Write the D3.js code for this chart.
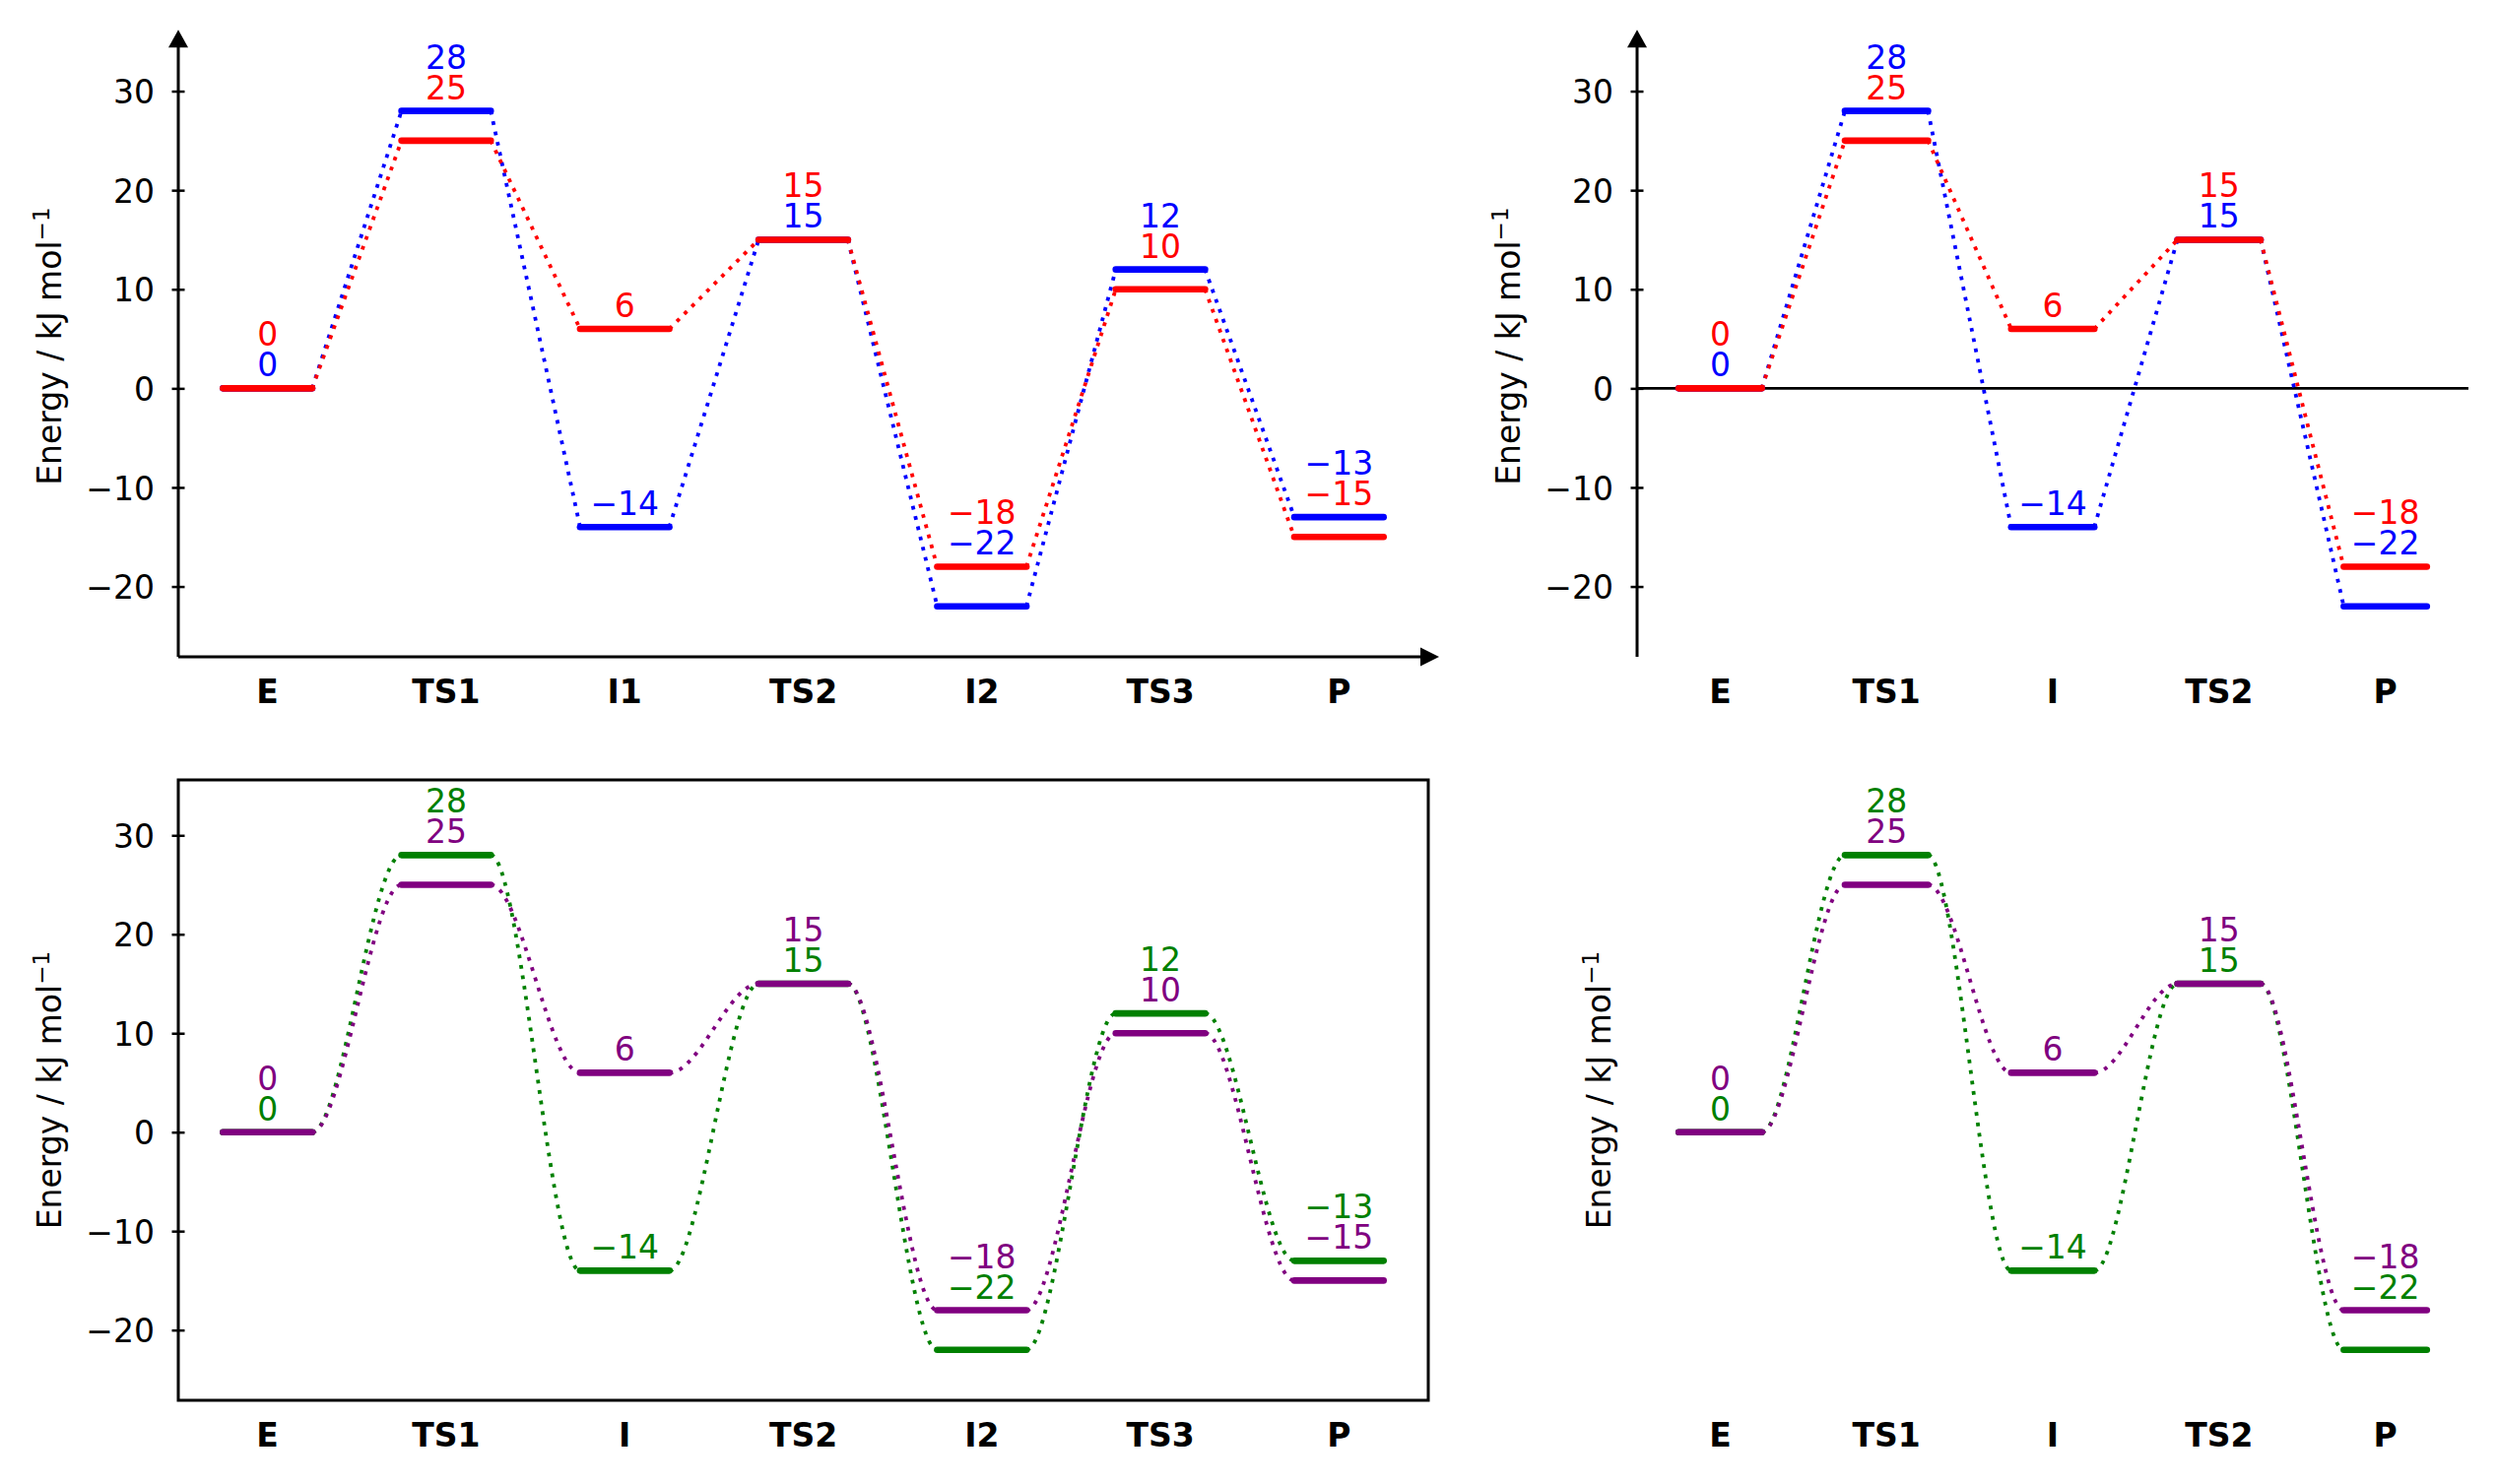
<!DOCTYPE html>
<html>
<head>
<meta charset="utf-8">
<script src="https://cdn.jsdelivr.net/npm/d3@7"></script>
<style>
  html, body { margin: 0; padding: 0; background: #fff; }
  svg { display: block; font-family: "DejaVu Sans", sans-serif; }
</style>
</head>
<body>
<div id="chart"></div>
<script>
"use strict";
(function() {
  // data
  var catsTopLeft = ["E", "TS1", "I1", "TS2", "I2", "TS3", "P"];
  var catsBottomLeft = ["E", "TS1", "I", "TS2", "I2", "TS3", "P"];
  var catsRight = ["E", "TS1", "I", "TS2", "P"];
  var energyA7 = [0, 28, -14, 15, -22, 12, -13];
  var energyB7 = [0, 25, 6, 15, -18, 10, -15];
  var energyA5 = [0, 28, -14, 15, -22];
  var energyB5 = [0, 25, 6, 15, -18];
  var yTicks = [-20, -10, 0, 10, 20, 30];
  var yDomain = [-27.1, 35.6];

  var W = 2535, H = 1507;
  var FS = 33;

  var panels = [
    {cats: catsTopLeft, a: energyA7, b: energyB7, colA: "#0000ff", colB: "#ff0000",
     left: 181, right: 1450, top: 36.2, bottom: 667, kind: "arrows", smooth: false, ticks: true, labelOff: 119},
    {cats: catsRight, a: energyA5, b: energyB5, colA: "#0000ff", colB: "#ff0000",
     left: 1662, right: 2506, top: 36.2, bottom: 667, kind: "zero", smooth: false, ticks: true, labelOff: 119},
    {cats: catsBottomLeft, a: energyA7, b: energyB7, colA: "#008000", colB: "#800080",
     left: 181, right: 1450, top: 792, bottom: 1422, kind: "frame", smooth: true, ticks: true, labelOff: 119},
    {cats: catsRight, a: energyA5, b: energyB5, colA: "#008000", colB: "#800080",
     left: 1662, right: 2506, top: 792, bottom: 1422, kind: "none", smooth: true, ticks: false, labelOff: 27}
  ];

  var svg = d3.select("#chart").append("svg")
    .attr("width", W)
    .attr("height", H);

  svg.append("rect").attr("width", W).attr("height", H).attr("fill", "#fff");

  // functions
  var drawPanel = function(p) {
    var g, x, y, half, n, drawSeries, i;
    n = p.cats.length;
    x = d3.scaleLinear().domain([-0.5, n - 0.5]).range([p.left, p.right]);
    y = d3.scaleLinear().domain(yDomain).range([p.bottom, p.top]);
    half = x(0.25) - x(0);
    g = svg.append("g");

    // axes
    if (p.kind === "frame") {
      g.append("rect")
        .attr("x", p.left).attr("y", p.top)
        .attr("width", p.right - p.left).attr("height", p.bottom - p.top)
        .attr("fill", "none").attr("stroke", "#000").attr("stroke-width", 3);
    }
    if (p.kind === "arrows") {
      g.append("line")
        .attr("x1", p.left).attr("x2", p.right)
        .attr("y1", p.bottom).attr("y2", p.bottom)
        .attr("stroke", "#000").attr("stroke-width", 3);
      g.append("path")
        .attr("d", "M" + (p.right + 11) + "," + p.bottom + "L" + (p.right - 8) + "," + (p.bottom - 9.5) +
          "L" + (p.right - 8) + "," + (p.bottom + 9.5) + "Z")
        .attr("fill", "#000");
    }
    if (p.kind === "zero") {
      g.append("line")
        .attr("x1", p.left).attr("x2", p.right)
        .attr("y1", y(0)).attr("y2", y(0))
        .attr("stroke", "#000").attr("stroke-width", 2.7);
    }
    if (p.kind === "arrows" || p.kind === "zero") {
      g.append("line")
        .attr("x1", p.left).attr("x2", p.left)
        .attr("y1", p.bottom).attr("y2", p.top)
        .attr("stroke", "#000").attr("stroke-width", 3);
      g.append("path")
        .attr("d", "M" + p.left + "," + (p.top - 6) + "L" + (p.left - 10) + "," + (p.top + 12) +
          "L" + (p.left + 10) + "," + (p.top + 12) + "Z")
        .attr("fill", "#000");
    }
    if (p.ticks) {
      var ax = g.append("g")
        .attr("transform", "translate(" + p.left + ",0)")
        .call(d3.axisLeft(y).tickValues(yTicks).tickSize(6.5).tickPadding(17.5));
      ax.select(".domain").remove();
      ax.selectAll(".tick line").attr("x1", 6.5).attr("stroke-width", 2.5);
      ax.selectAll(".tick text")
        .attr("font-family", "DejaVu Sans")
        .attr("font-size", FS)
        .attr("fill", "#000")
        .attr("dy", "0.365em");
    }

    // y label
    var lab = g.append("text")
      .attr("transform", "translate(" + (p.left - p.labelOff) + "," + ((p.top + p.bottom) / 2) + ") rotate(-90)")
      .attr("text-anchor", "middle")
      .attr("font-size", FS)
      .attr("fill", "#000");
    lab.append("tspan").text("Energy / kJ mol");
    lab.append("tspan").attr("font-size", FS * 0.7).attr("dy", -12).text("\u22121");

    // category labels
    g.selectAll(".cat")
      .data(p.cats)
      .enter()
      .append("text")
      .attr("class", "cat")
      .attr("x", function(d, i) { return x(i); })
      .attr("y", p.bottom + 47)
      .attr("text-anchor", "middle")
      .attr("font-size", FS)
      .attr("font-weight", "bold")
      .attr("fill", "#000")
      .text(function(d) { return d; });

    // series: connectors then levels
    drawSeries = function(vals, col) {
      var k, path, xa, ya, xb, yb, h;
      for (k = 0; k < vals.length - 1; k++) {
        xa = x(k) + half; ya = y(vals[k]);
        xb = x(k + 1) - half; yb = y(vals[k + 1]);
        path = d3.path();
        path.moveTo(xa, ya);
        if (p.smooth) {
          h = (xb - xa) / 3;
          path.bezierCurveTo(xa + h, ya, xb - h, yb, xb, yb);
        } else {
          path.lineTo(xb, yb);
        }
        g.append("path")
          .attr("d", path.toString())
          .attr("fill", "none")
          .attr("stroke", col)
          .attr("stroke-width", 3.8)
          .attr("stroke-dasharray", "3.8,6.9");
      }
      g.selectAll(null)
        .data(vals)
        .enter()
        .append("line")
        .attr("x1", function(d, i) { return x(i) - half; })
        .attr("x2", function(d, i) { return x(i) + half; })
        .attr("y1", function(d) { return y(d); })
        .attr("y2", function(d) { return y(d); })
        .attr("stroke", col)
        .attr("stroke-width", 6.6)
        .attr("stroke-linecap", "round");
    };
    drawSeries(p.a, p.colA);
    drawSeries(p.b, p.colB);

    // value labels
    var fmt = function(v) { return v < 0 ? "\u2212" + Math.abs(v) : String(v); };
    var labels = [];
    for (i = 0; i < n; i++) {
      var pair = [{v: p.a[i], c: p.colA, s: 0}, {v: p.b[i], c: p.colB, s: 1}];
      pair.sort(function(u, w) { return (w.v - u.v) || (w.s - u.s); });
      if (pair[0].v - pair[1].v < 6) {
        labels.push({i: i, v: pair[1].v, c: pair[1].c, y: y(pair[0].v) - 12});
        labels.push({i: i, v: pair[0].v, c: pair[0].c, y: y(pair[0].v) - 43});
      } else {
        labels.push({i: i, v: pair[0].v, c: pair[0].c, y: y(pair[0].v) - 12});
        labels.push({i: i, v: pair[1].v, c: pair[1].c, y: y(pair[1].v) - 12});
      }
    }
    g.selectAll(".val")
      .data(labels)
      .enter()
      .append("text")
      .attr("class", "val")
      .attr("x", function(d) { return x(d.i); })
      .attr("y", function(d) { return d.y; })
      .attr("text-anchor", "middle")
      .attr("font-size", FS)
      .attr("fill", function(d) { return d.c; })
      .text(function(d) { return fmt(d.v); });
  };

  // operations
  panels.forEach(function(p) { drawPanel(p); });
})();
</script>
</body>
</html>
